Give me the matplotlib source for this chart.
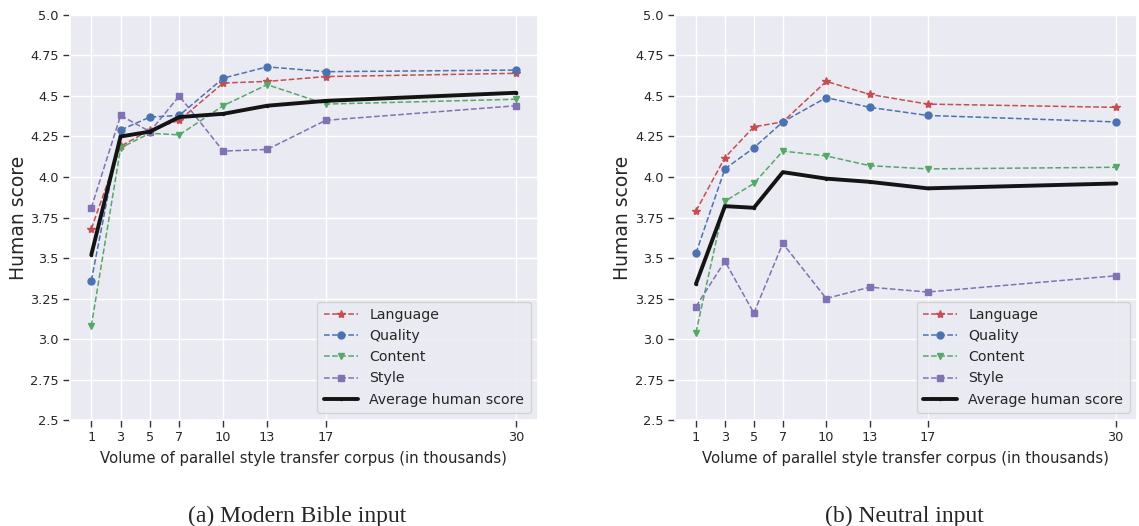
import matplotlib
matplotlib.use("Agg")
import matplotlib.pyplot as plt
import seaborn as sns

volumes = [1, 3, 5, 7, 10, 13, 17, 30]

bible_language = [3.68, 4.19, 4.29, 4.35, 4.58, 4.59, 4.62, 4.64]
bible_quality = [3.36, 4.29, 4.37, 4.38, 4.61, 4.68, 4.65, 4.66]
bible_content = [3.08, 4.18, 4.27, 4.26, 4.44, 4.57, 4.45, 4.48]
bible_style = [3.81, 4.38, 4.28, 4.50, 4.16, 4.17, 4.35, 4.44]
bible_average = [3.52, 4.25, 4.28, 4.37, 4.39, 4.44, 4.47, 4.52]

neutral_language = [3.79, 4.12, 4.31, 4.34, 4.59, 4.51, 4.45, 4.43]
neutral_quality = [3.53, 4.05, 4.18, 4.34, 4.49, 4.43, 4.38, 4.34]
neutral_content = [3.04, 3.85, 3.96, 4.16, 4.13, 4.07, 4.05, 4.06]
neutral_style = [3.20, 3.48, 3.16, 3.59, 3.25, 3.32, 3.29, 3.39]
neutral_average = [3.34, 3.82, 3.81, 4.03, 3.99, 3.97, 3.93, 3.96]

y_ticks = [2.5, 2.75, 3.0, 3.25, 3.5, 3.75, 4.0, 4.25, 4.5, 4.75, 5.0]
captions = ["(a) Modern Bible input", "(b) Neutral input"]

sns.set_theme(style="darkgrid")
plt.rcParams['font.family'] = ['DejaVu Sans']
pal = sns.color_palette("deep")


def draw_panel(ax, lang, qual, cont, style, avg):
	ax.plot(volumes, lang, "--", marker="*", color=pal[3], ms=6, lw=1.1, label="Language")
	ax.plot(volumes, qual, "--", marker="o", color=pal[0], ms=5, lw=1.1, label="Quality")
	ax.plot(volumes, cont, "--", marker="v", color=pal[2], ms=5, lw=1.1, label="Content")
	ax.plot(volumes, style, "--", marker="s", color=pal[4], ms=5, lw=1.1, label="Style")
	ax.plot(volumes, avg, "-", marker=".", color="#141414", ms=3, lw=2.8, label="Average human score")
	ax.set_ylim(2.5, 5.0)
	ax.set_yticks(y_ticks)
	ax.set_yticklabels([f"{t:g}" if t * 4 % 2 else f"{t:.1f}" for t in y_ticks])
	ax.set_xticks(volumes)
	ax.tick_params(axis="both", labelsize=9.3, length=5, width=1, color="#333333", pad=3,
				   bottom=True, left=True)
	ax.set_xlabel("Volume of parallel style transfer corpus (in thousands)", fontsize=10.7, labelpad=5)
	ax.set_ylabel("Human score", fontsize=13.5, labelpad=2)
	ax.legend(loc="lower right", fontsize=10.2, frameon=True, handlelength=2.4,
			  borderpad=0.45, labelspacing=0.5)


fig = plt.figure(figsize=(11.39, 5.26), dpi=100)
ax1 = fig.add_axes([0.0615, 0.2015, 0.4105, 0.77])
ax2 = fig.add_axes([0.5926, 0.2015, 0.4054, 0.77])
draw_panel(ax1, bible_language, bible_quality, bible_content, bible_style, bible_average)
draw_panel(ax2, neutral_language, neutral_quality, neutral_content, neutral_style, neutral_average)

fig.text(0.261, 0.008, captions[0], ha="center", fontsize=17, family="Liberation Serif")
fig.text(0.794, 0.008, captions[1], ha="center", fontsize=17, family="Liberation Serif")

fig.savefig("out.png", dpi=100)
